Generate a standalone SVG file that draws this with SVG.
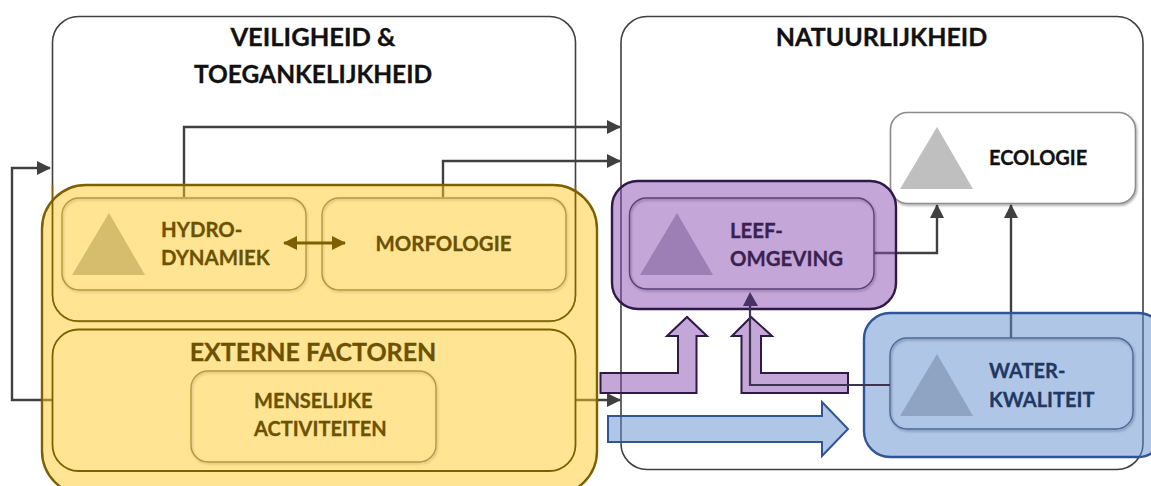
<svg xmlns="http://www.w3.org/2000/svg" width="1151" height="486" viewBox="0 0 1151 486">
<style>
text{font-family:Lato,"Open Sans","Liberation Sans",sans-serif;font-weight:700;text-anchor:start;stroke-width:.3}
.mid{text-anchor:middle}
.frame{fill:#fff;stroke:#404040;stroke-width:1.6}
.c{fill:none;stroke:#404040;stroke-width:2.4}
.yi{fill:none;stroke:#7f6000;stroke-opacity:.55;stroke-width:1.4;filter:url(#s)}
.yt{fill:#6b5200;stroke:#6b5200}
.pt{fill:#3a2250;stroke:#3a2250}
.bt{fill:#1f3864;stroke:#1f3864}
.k{fill:#111;stroke:#111}
</style>
<defs>
<marker id="a" markerUnits="userSpaceOnUse" markerWidth="16" markerHeight="16" refX="13" refY="7" orient="auto"><path d="M0 0L14 7L0 14Z" fill="#404040"/></marker>
<marker id="b" markerUnits="userSpaceOnUse" markerWidth="16" markerHeight="16" refX="13" refY="7" orient="auto-start-reverse"><path d="M0 0L14 7L0 14Z" fill="#7f6000"/></marker>
<filter id="s" x="-5%" y="-5%" width="110%" height="115%"><feDropShadow dx="1" dy="1.500" stdDeviation="1.200" flood-color="#000" flood-opacity=".35"/></filter>
</defs>

<g id="veiligheid">
<rect class="frame" x="52.500" y="16.500" width="523" height="305" rx="26"/>
<text class="k mid" x="313" y="46" font-size="25.500">VEILIGHEID &amp;</text>
<text class="k mid" x="313" y="83" font-size="24.500">TOEGANKELIJKHEID</text>
</g>
<g id="natuurlijkheid">
<rect class="frame" x="621" y="16.500" width="522" height="453" rx="26"/>
<text class="k mid" x="881.500" y="46" font-size="25">NATUURLIJKHEID</text>
</g>

<g id="connectors">
<path class="c" d="M184 197V127H620" marker-end="url(#a)"/>
<path class="c" d="M443 197V161H620" marker-end="url(#a)"/>
<path class="c" d="M52 400H12V168H50" marker-end="url(#a)"/>
<path class="c" d="M575 400H620" marker-end="url(#a)"/>
<path class="c" d="M874 253H937V205" marker-end="url(#a)"/>
<path class="c" d="M1011 338V205" marker-end="url(#a)"/>
</g>

<g id="externe-factoren">
<rect x="42" y="185" width="555" height="310" rx="44" fill="#ffc92a" fill-opacity=".5" stroke="#7f6000" stroke-width="2.400"/>
<rect x="52.500" y="329.500" width="523" height="141.500" rx="26" fill="none" stroke="#7f6000" stroke-width="1.800"/>
<path d="M52.500 185V295a26 26 0 0 0 26 26H549.500a26 26 0 0 0 26-26V185" fill="none" stroke="#7f6000" stroke-width="1.400"/>
<text class="yt mid" x="313" y="361" font-size="25">EXTERNE FACTOREN</text>
</g>
<g id="hydrodynamiek">
<rect class="yi" x="62" y="198" width="244" height="92" rx="17"/>
<path d="M109 213L145 275H72Z" fill="#d6bd6e"/>
<text class="yt" x="161" y="237" font-size="20.400">HYDRO-</text>
<text class="yt" x="161" y="265" font-size="20.400">DYNAMIEK</text>
</g>
<g id="morfologie">
<rect class="yi" x="322" y="198" width="244" height="92" rx="17"/>
<text class="yt mid" x="443.500" y="251" font-size="20.400">MORFOLOGIE</text>
</g>
<g id="menselijke-activiteiten">
<rect class="yi" x="191" y="371" width="245" height="91" rx="17"/>
<text class="yt" x="254" y="408" font-size="20">MENSELIJKE</text>
<text class="yt" x="254" y="436" font-size="20">ACTIVITEITEN</text>
</g>
<path id="hydro-morfo" d="M284 243H345" fill="none" stroke="#7f6000" stroke-width="3" marker-start="url(#b)" marker-end="url(#b)"/>

<g id="ecologie">
<rect x="890.500" y="112.500" width="245" height="91" rx="17" fill="#fff" stroke="#8c8c8c" stroke-width="1.600" filter="url(#s)"/>
<path d="M937 127L973 189H900Z" fill="#bfbfbf"/>
<text class="k" x="989" y="165" font-size="20">ECOLOGIE</text>
</g>
<g id="leefomgeving">
<rect x="612" y="181" width="284" height="128" rx="26" fill="#8b4db1" fill-opacity=".5" stroke="#2e1a47" stroke-width="2.400"/>
<rect x="629.500" y="198" width="244.500" height="91" rx="17" fill="none" stroke="#5b3f7a" stroke-width="1.400" filter="url(#s)"/>
<path d="M677 213L713 275H640Z" fill="#9d7fb5"/>
<text class="pt" x="730" y="238" font-size="20.400">LEEF-</text>
<text class="pt" x="730" y="266" font-size="20.400">OMGEVING</text>
</g>
<g id="waterkwaliteit">
<rect x="864" y="313" width="300" height="144" rx="26" fill="#618dcd" fill-opacity=".5" stroke="#2f5597" stroke-width="2.400"/>
<rect x="890" y="338" width="243" height="91" rx="17" fill="none" stroke="#4a6a9c" stroke-width="1.400" filter="url(#s)"/>
<path d="M937 354L973 416H900Z" fill="#8fa3c2"/>
<text class="bt" x="989" y="378" font-size="20">WATER-</text>
<text class="bt" x="989" y="407" font-size="20">KWALITEIT</text>
</g>

<g id="block-arrows">
<path d="M600.500 373H678V336H667L687 317L707 336H696.500V393H600.500Z" fill="#8b4db1" fill-opacity=".5" stroke="#2e1a47" stroke-width="2"/>
<path d="M848 373H761V336H772L751 317L732 336H741.500V393H848Z" fill="#8b4db1" fill-opacity=".5" stroke="#2e1a47" stroke-width="2"/>
<path d="M608 416H822V402L848 429L822 456V442H608Z" fill="#618dcd" fill-opacity=".5" stroke="#2f5597" stroke-width="2"/>
</g>
<path id="water-leef" d="M890 385H750V300" fill="none" stroke="#3d3550" stroke-width="2.200"/>
<path id="water-leef-head" d="M750 292L743 306H758Z" fill="#4b3266"/>
</svg>
